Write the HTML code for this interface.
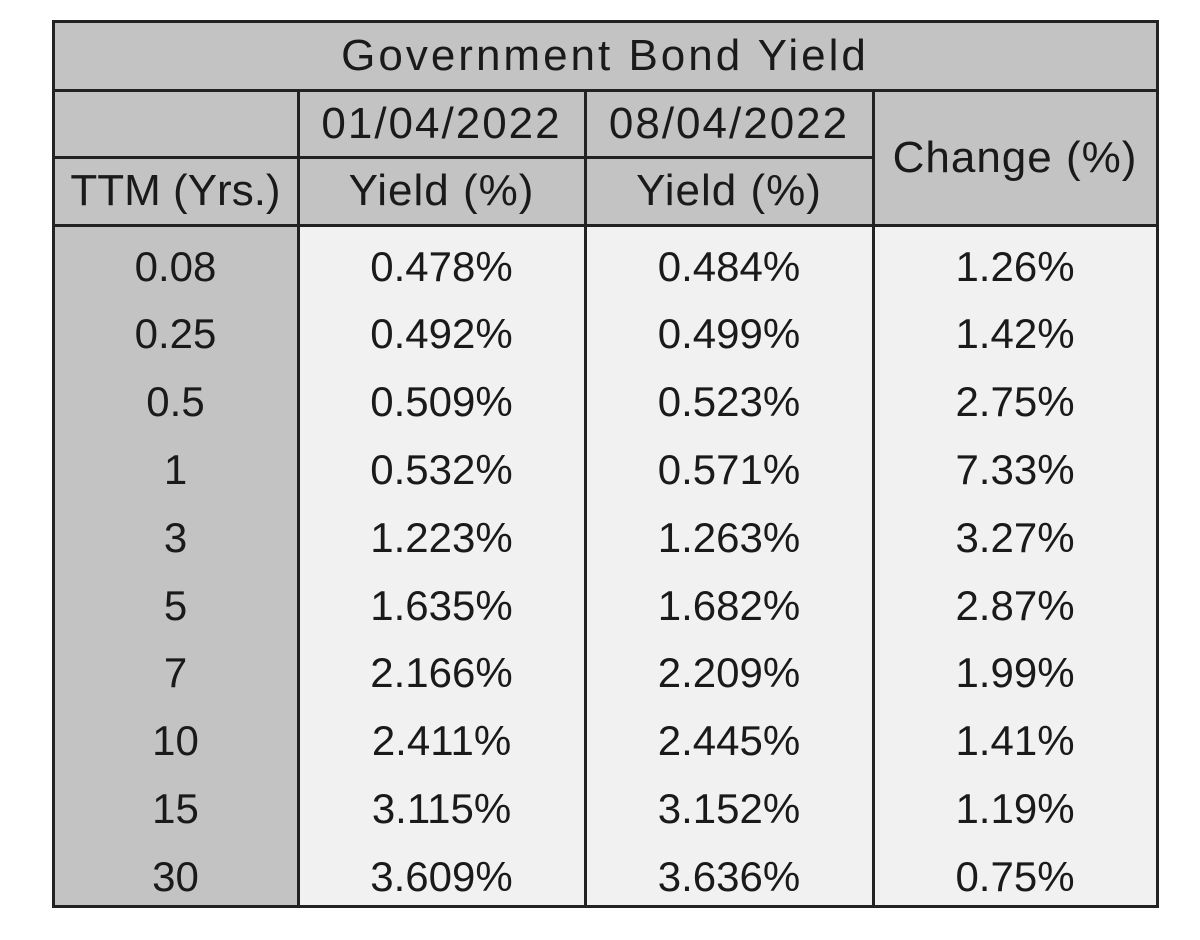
<!DOCTYPE html>
<html><head><meta charset="utf-8"><style>
body{margin:0;width:1200px;height:940px;background:#fff;position:relative;font-family:"Liberation Sans",sans-serif;color:#1a1a1a;overflow:hidden}
.c{position:absolute;display:flex;align-items:center;justify-content:center;font-size:42px;box-sizing:border-box;white-space:nowrap}
.h{font-size:44px;letter-spacing:1px}
.l{position:absolute;background:#222}
</style></head><body>
<div class="c h" style="left:53px;top:22px;width:1104px;height:68px;background:#c3c3c3;letter-spacing:3px">Government Bond Yield</div>
<div class="c" style="left:53px;top:90px;width:820px;height:135px;background:#c3c3c3"></div>
<div class="c h" style="left:873px;top:90px;width:284px;height:135px;background:#c3c3c3">Change (%)</div>
<div class="c h" style="left:298px;top:90px;width:287px;height:67px;letter-spacing:2px">01/04/2022</div>
<div class="c h" style="left:585px;top:90px;width:288px;height:67px;letter-spacing:2px">08/04/2022</div>
<div class="c h" style="left:53px;top:157px;width:245px;height:68px;letter-spacing:0">TTM (Yrs.)</div>
<div class="c h" style="left:298px;top:157px;width:287px;height:68px">Yield (%)</div>
<div class="c h" style="left:585px;top:157px;width:288px;height:68px">Yield (%)</div>
<div style="position:absolute;left:53px;top:225px;width:245px;height:681px;background:#c3c3c3"></div>
<div style="position:absolute;left:298px;top:225px;width:859px;height:681px;background:#f1f1f1"></div>
<div id="d"></div>
<div class="l" style="left:53px;top:20px;width:1106px;height:3px"></div>
<div class="l" style="left:53px;top:89px;width:1106px;height:3px"></div>
<div class="l" style="left:53px;top:156px;width:820px;height:3px"></div>
<div class="l" style="left:53px;top:224px;width:1106px;height:3px"></div>
<div class="l" style="left:53px;top:905px;width:1106px;height:3px"></div>
<div class="l" style="left:52px;top:20px;width:3px;height:888px"></div>
<div class="l" style="left:1156px;top:20px;width:3px;height:888px"></div>
<div class="l" style="left:297px;top:90px;width:3px;height:818px"></div>
<div class="l" style="left:584px;top:90px;width:3px;height:818px"></div>
<div class="l" style="left:872px;top:90px;width:3px;height:818px"></div>
<script>
var r=[["0.08","0.478%","0.484%","1.26%"],["0.25","0.492%","0.499%","1.42%"],["0.5","0.509%","0.523%","2.75%"],["1","0.532%","0.571%","7.33%"],["3","1.223%","1.263%","3.27%"],["5","1.635%","1.682%","2.87%"],["7","2.166%","2.209%","1.99%"],["10","2.411%","2.445%","1.41%"],["15","3.115%","3.152%","1.19%"],["30","3.609%","3.636%","0.75%"]];
var xs=[[53,245],[298,287],[585,288],[873,284]],h="";
r.forEach(function(row,i){row.forEach(function(t,j){h+='<div class="c" style="left:'+xs[j][0]+'px;top:'+(233+i*67.8)+'px;width:'+xs[j][1]+'px;height:67px">'+t+'</div>';});});
document.getElementById("d").innerHTML=h;
</script>
</body></html>
